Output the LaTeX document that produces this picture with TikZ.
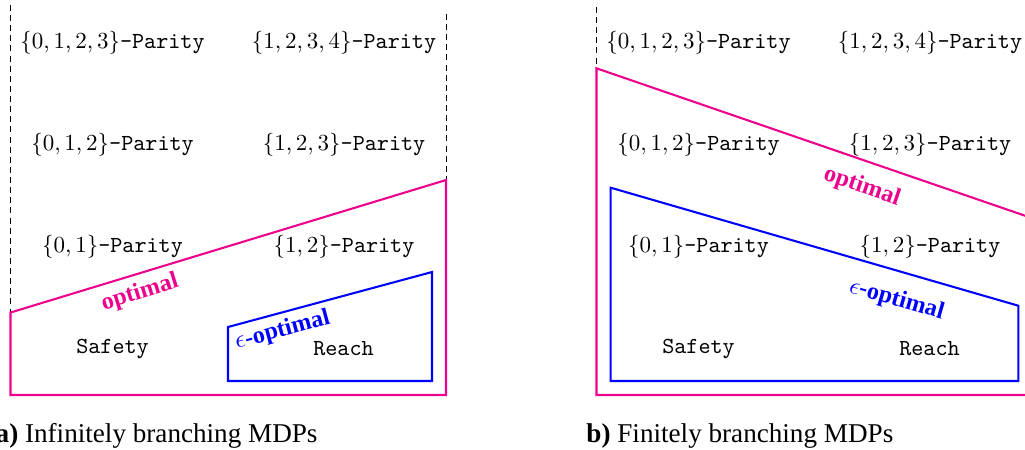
\documentclass[tikz,border=0pt]{standalone}
\usepackage{fontspec}
\newfontfamily\capfont{Liberation Serif}
\usetikzlibrary{positioning}
\definecolor{optpink}{RGB}{236,0,140}
\definecolor{epsblue}{RGB}{0,0,255}
\tikzset{
  cls/.style={anchor=base,inner sep=0pt},
  optline/.style={draw=optpink,line width=0.9pt},
  epsline/.style={draw=epsblue,line width=0.9pt},
  bound/.style={draw=black,line width=0.4pt,dash pattern=on 2.6pt off 1.8pt},
  lbl/.style={font={\fontsize{10.5}{12}\selectfont\capfont\bfseries},inner sep=0pt},
  capt/.style={font={\fontsize{11.8}{14}\selectfont\capfont},inner sep=0pt}
}

\begin{document}
\begin{tikzpicture}[x=0.4348pt,y=-0.4348pt]
  \clip (0,0) rectangle (1025,449);
  \coordinate (aTL) at (10.5,312.5);
  \coordinate (aTR) at (446,180);
  \coordinate (aBR) at (446,395);
  \coordinate (aBL) at (10.5,395);
  \coordinate (bTL) at (596.5,68.3);
  \coordinate (bTR) at (1032,218.1);
  \coordinate (bBR) at (1032,395);
  \coordinate (bBL) at (596.5,395);

  \draw[bound] (10.5,5) -- (aTL);
  \draw[bound] (446,14) -- (aTR);
  \draw[bound] (596.5,7) -- (bTL);

  \draw[optline] (aTL) -- (aTR) -- (aBR) -- (aBL) -- cycle;
  \draw[epsline] (228,327) -- (432,272) -- (432,381) -- (228,381) -- cycle;
  \draw[optline] (bTL) -- (bTR) -- (bBR) -- (bBL) -- cycle;
  \draw[epsline] (610.7,187.7) -- (1018.3,305.7) -- (1018.3,381) -- (610.7,381) -- cycle;

  \node[cls] (a0123) at (112.5,48) {$\{0,1,2,3\}$\texttt{-Parity}};
  \node[cls] (a1234) at (344,48) {$\{1,2,3,4\}$\texttt{-Parity}};
  \node[cls] (a012) at (112.5,150) {$\{0,1,2\}$\texttt{-Parity}};
  \node[cls] (a123) at (344,150) {$\{1,2,3\}$\texttt{-Parity}};
  \node[cls] (a01) at (112.5,252) {$\{0,1\}$\texttt{-Parity}};
  \node[cls] (a12) at (344,252) {$\{1,2\}$\texttt{-Parity}};
  \node[cls] (aSafe) at (112.5,353) {\texttt{Safety}};
  \node[cls] (aReach) at (343.5,355) {\texttt{Reach}};
  \node[lbl,text=optpink,rotate=17] (aOpt) at (140,293) {optimal};
  \node[lbl,text=epsblue,rotate=15] (aEps) at (282.5,330.5) {$\epsilon$-optimal};

  \node[cls] (b0123) at (698.5,48) {$\{0,1,2,3\}$\texttt{-Parity}};
  \node[cls] (b1234) at (930,48) {$\{1,2,3,4\}$\texttt{-Parity}};
  \node[cls] (b012) at (698.5,150) {$\{0,1,2\}$\texttt{-Parity}};
  \node[cls] (b123) at (930,150) {$\{1,2,3\}$\texttt{-Parity}};
  \node[cls] (b01) at (698.5,252) {$\{0,1\}$\texttt{-Parity}};
  \node[cls] (b12) at (930,252) {$\{1,2\}$\texttt{-Parity}};
  \node[cls] (bSafe) at (698.5,353) {\texttt{Safety}};
  \node[cls] (bReach) at (929.5,355) {\texttt{Reach}};
  \node[lbl,text=optpink,rotate=-19] (bOpt) at (862,187) {optimal};
  \node[lbl,text=epsblue,rotate=-16] (bEps) at (896.5,300) {$\epsilon$-optimal};

  \node[capt,anchor=base east] (capA) at (318,442) {\textbf{a)} Infinitely branching MDPs};
  \node[capt,anchor=base west] (capB) at (586,442) {\textbf{b)} Finitely branching MDPs};
\end{tikzpicture}
\end{document}
